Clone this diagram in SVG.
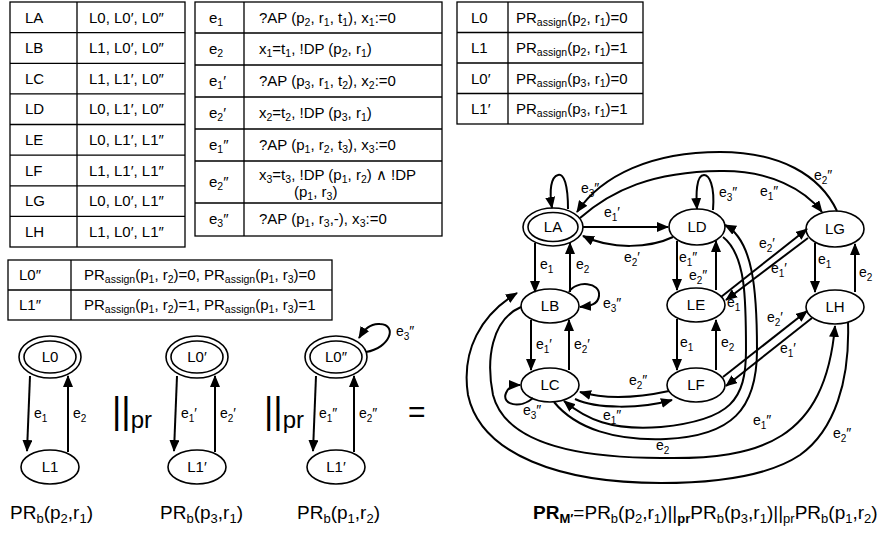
<svg xmlns="http://www.w3.org/2000/svg" width="886" height="533" viewBox="0 0 886 533">
<style>
text{font-family:"Liberation Sans",Arial,sans-serif;fill:#000}
.t{font-size:15px}
.ts{font-size:10.5px;baseline-shift:-3px}
.n{font-size:15px;text-anchor:middle}
.el{font-size:14px}
.s{font-size:10px;baseline-shift:-4px}
.big{font-size:19px}
.bs{font-size:13px;baseline-shift:-4px}
.tb{fill:none;stroke:#000;stroke-width:1.3}
.nd{fill:#fff;stroke:#000;stroke-width:1.6}
.e{fill:none;stroke:#000;stroke-width:2;marker-end:url(#ah)}
</style>
<defs>
<marker id="ah" viewBox="0 0 12 10" refX="11" refY="5" markerWidth="12" markerHeight="10" markerUnits="userSpaceOnUse" orient="auto"><path d="M0,0 L12,5 L0,10 z"/></marker>
</defs>
<rect width="886" height="533" fill="#fff"/>

<g id="table-states">
<rect class="tb" x="10" y="2" width="175" height="245"/>
<path class="tb" d="M77,2V247M10,32.6H185M10,63.3H185M10,93.9H185M10,124.5H185M10,155.1H185M10,185.8H185M10,216.4H185"/>
<text class="t" x="25" y="22.5">LA</text><text class="t" x="89" y="22.5">L0, L0′, L0″</text>
<text class="t" x="25" y="53">LB</text><text class="t" x="89" y="53">L1, L0′, L0″</text>
<text class="t" x="25" y="83.5">LC</text><text class="t" x="89" y="83.5">L1, L1′, L0″</text>
<text class="t" x="25" y="114">LD</text><text class="t" x="89" y="114">L0, L1′, L0″</text>
<text class="t" x="25" y="145">LE</text><text class="t" x="89" y="145">L0, L1′, L1″</text>
<text class="t" x="25" y="175.5">LF</text><text class="t" x="89" y="175.5">L1, L1′, L1″</text>
<text class="t" x="25" y="206">LG</text><text class="t" x="89" y="206">L0, L0′, L1″</text>
<text class="t" x="25" y="237">LH</text><text class="t" x="89" y="237">L1, L0′, L1″</text>
</g>

<g id="table-edges">
<rect class="tb" x="195" y="2" width="247" height="234"/>
<path class="tb" d="M244,2V236M195,33H442M195,65H442M195,97H442M195,129H442M195,161H442M195,203H442"/>
<text class="t" x="209" y="23">e<tspan class="ts">1</tspan></text>
<text class="t" x="259" y="23">?AP (p<tspan class="ts">2</tspan>, r<tspan class="ts">1</tspan>, t<tspan class="ts">1</tspan>), x<tspan class="ts">1</tspan>:=0</text>
<text class="t" x="209" y="54">e<tspan class="ts">2</tspan></text>
<text class="t" x="259" y="54">x<tspan class="ts">1</tspan>=t<tspan class="ts">1</tspan>, !DP (p<tspan class="ts">2</tspan>, r<tspan class="ts">1</tspan>)</text>
<text class="t" x="209" y="86">e<tspan class="ts">1</tspan>′</text>
<text class="t" x="259" y="86">?AP (p<tspan class="ts">3</tspan>, r<tspan class="ts">1</tspan>, t<tspan class="ts">2</tspan>), x<tspan class="ts">2</tspan>:=0</text>
<text class="t" x="209" y="118">e<tspan class="ts">2</tspan>′</text>
<text class="t" x="259" y="118">x<tspan class="ts">2</tspan>=t<tspan class="ts">2</tspan>, !DP (p<tspan class="ts">3</tspan>, r<tspan class="ts">1</tspan>)</text>
<text class="t" x="209" y="150">e<tspan class="ts">1</tspan>″</text>
<text class="t" x="259" y="150">?AP (p<tspan class="ts">1</tspan>, r<tspan class="ts">2</tspan>, t<tspan class="ts">3</tspan>), x<tspan class="ts">3</tspan>:=0</text>
<text class="t" x="209" y="187">e<tspan class="ts">2</tspan>″</text>
<text class="t" x="259" y="180">x<tspan class="ts">3</tspan>=t<tspan class="ts">3</tspan>, !DP (p<tspan class="ts">1</tspan>, r<tspan class="ts">2</tspan>) ∧ !DP</text>
<text class="t" x="294" y="197">(p<tspan class="ts">1</tspan>, r<tspan class="ts">3</tspan>)</text>
<text class="t" x="209" y="224">e<tspan class="ts">3</tspan>″</text>
<text class="t" x="259" y="224">?AP (p<tspan class="ts">1</tspan>, r<tspan class="ts">3</tspan>,-), x<tspan class="ts">3</tspan>:=0</text>
</g>

<g id="table-locations">
<rect class="tb" x="457" y="2" width="186" height="122"/>
<path class="tb" d="M508,2V124M457,32.5H643M457,63H643M457,93.5H643"/>
<text class="t" x="471" y="22.5">L0</text><text class="t" x="516" y="22.5">PR<tspan class="ts">assign</tspan>(p<tspan class="ts">2</tspan>, r<tspan class="ts">1</tspan>)=0</text>
<text class="t" x="471" y="53">L1</text><text class="t" x="516" y="53">PR<tspan class="ts">assign</tspan>(p<tspan class="ts">2</tspan>, r<tspan class="ts">1</tspan>)=1</text>
<text class="t" x="471" y="83.5">L0′</text><text class="t" x="516" y="83.5">PR<tspan class="ts">assign</tspan>(p<tspan class="ts">3</tspan>, r<tspan class="ts">1</tspan>)=0</text>
<text class="t" x="471" y="114">L1′</text><text class="t" x="516" y="114">PR<tspan class="ts">assign</tspan>(p<tspan class="ts">3</tspan>, r<tspan class="ts">1</tspan>)=1</text>
</g>

<g id="table-locations2">
<rect class="tb" x="8" y="260" width="324" height="60"/>
<path class="tb" d="M71,260V320M8,290H332"/>
<text class="t" x="19" y="280">L0″</text><text class="t" x="84" y="280">PR<tspan class="ts">assign</tspan>(p<tspan class="ts">1</tspan>, r<tspan class="ts">2</tspan>)=0, PR<tspan class="ts">assign</tspan>(p<tspan class="ts">1</tspan>, r<tspan class="ts">3</tspan>)=0</text>
<text class="t" x="19" y="310">L1″</text><text class="t" x="84" y="310">PR<tspan class="ts">assign</tspan>(p<tspan class="ts">1</tspan>, r<tspan class="ts">2</tspan>)=1, PR<tspan class="ts">assign</tspan>(p<tspan class="ts">1</tspan>, r<tspan class="ts">3</tspan>)=1</text>
</g>

<g id="L0"><ellipse class="nd" cx="50" cy="357" rx="31" ry="21"/><ellipse class="nd" cx="50" cy="357" rx="26" ry="16"/><text class="n" x="50" y="362">L0</text></g>
<g id="L1"><ellipse class="nd" cx="50" cy="467" rx="29" ry="17"/><text class="n" x="50" y="472">L1</text></g>
<g id="L0p"><ellipse class="nd" cx="197" cy="357" rx="31" ry="21"/><ellipse class="nd" cx="197" cy="357" rx="26" ry="16"/><text class="n" x="197" y="362">L0′</text></g>
<g id="L1p"><ellipse class="nd" cx="197" cy="467" rx="29" ry="17"/><text class="n" x="197" y="472">L1′</text></g>
<g id="L0pp"><ellipse class="nd" cx="336" cy="357" rx="31" ry="21"/><ellipse class="nd" cx="336" cy="357" rx="26" ry="16"/><text class="n" x="336" y="362">L0″</text></g>
<g id="L1pp"><ellipse class="nd" cx="336" cy="467" rx="29" ry="17"/><text class="n" x="336" y="472">L1′</text></g>

<g id="LA"><ellipse class="nd" cx="553" cy="227" rx="30" ry="19"/><ellipse class="nd" cx="553" cy="227" rx="25" ry="14.5"/><text class="n" x="553" y="232">LA</text></g>
<g id="LD"><ellipse class="nd" cx="697" cy="227" rx="28" ry="18"/><text class="n" x="697" y="232">LD</text></g>
<g id="LG"><ellipse class="nd" cx="835" cy="229" rx="29" ry="18"/><text class="n" x="835" y="234">LG</text></g>
<g id="LB"><ellipse class="nd" cx="550" cy="306" rx="29" ry="17"/><text class="n" x="550" y="311">LB</text></g>
<g id="LE"><ellipse class="nd" cx="696" cy="305" rx="29" ry="17"/><text class="n" x="696" y="310">LE</text></g>
<g id="LH"><ellipse class="nd" cx="835" cy="307" rx="29" ry="17"/><text class="n" x="835" y="312">LH</text></g>
<g id="LC"><ellipse class="nd" cx="550" cy="385" rx="29" ry="17"/><text class="n" x="550" y="390">LC</text></g>
<g id="LF"><ellipse class="nd" cx="696" cy="385" rx="29" ry="17"/><text class="n" x="696" y="390">LF</text></g>

<g id="connectors">
<path class="e" d="M30,376 L27,451"/>
<path class="e" d="M68,452 L68,376"/>
<path class="e" d="M177,376 L174,451"/>
<path class="e" d="M215,452 L215,376"/>
<path class="e" d="M316,376 L313,451"/>
<path class="e" d="M354,452 L354,376"/>
<path class="e" d="M366,352 C390,348 398,325 380,324 C370,323 364,330 359,338"/>
<path class="e" d="M535,243 L535,292"/>
<path class="e" d="M570,292 L570,243"/>
<path class="e" d="M531,320 L531,370"/>
<path class="e" d="M569,370 L569,320"/>
<path class="e" d="M677,241 L677,290"/>
<path class="e" d="M716,290 L716,241"/>
<path class="e" d="M677,319 L677,370"/>
<path class="e" d="M716,370 L716,320"/>
<path class="e" d="M815,243 L815,292"/>
<path class="e" d="M855,292 L855,244"/>
<path class="e" d="M583,227 L668,227"/>
<path class="e" d="M673,237 C650,248 612,250 583,236"/>
<path class="e" d="M568,209 C568,185 564,173 558,175 C551,177 549,190 552,208"/>
<path class="e" d="M569,292 C576,280 601,282 599,296 C598,304 591,306 580,307"/>
<path class="e" d="M533,398 C521,409 501,405 506,393 C509,386 514,385 520,385"/>
<path class="e" d="M713,210 C715,185 709,175 704,175 C696,175 696,195 697,209"/>
<path class="e" d="M580,218 C612,190 652,172 720,171 C770,170 805,190 822,212"/>
<path class="e" d="M837,211 C820,175 780,152 720,152 C652,152 602,175 577,212"/>
<path class="e" d="M721,297 L807,229"/>
<path class="e" d="M808,238 L726,300"/>
<path class="e" d="M723,377 L807,311"/>
<path class="e" d="M812,318 L726,386"/>
<path class="e" d="M669,391 C646,396 611,401 580,392"/>
<path class="e" d="M575,399 C596,409 641,409 672,400"/>
<path class="e" d="M723,237 C746,255 746,300 746,350 C746,400 731,420 661,427 C611,431 586,419 564,401"/>
<path class="e" d="M554,402 C576,429 616,441 666,439 C731,436 757,410 757,350 C757,290 753,240 725,225"/>
<path class="e" d="M521,307 C491,320 486,360 493,395 C506,445 581,458 661,458 C761,460 825,440 835,326"/>
<path class="e" d="M848,322 C850,380 835,430 800,455 C770,475 720,483 661,483 C561,483 481,455 468,395 C461,350 481,315 517,293"/>
</g>

<g id="labels">
<text class="el" x="34" y="418">e<tspan class="s">1</tspan></text>
<text class="el" x="73" y="418">e<tspan class="s">2</tspan></text>
<text class="el" x="181" y="418">e<tspan class="s">1</tspan>′</text>
<text class="el" x="220" y="418">e<tspan class="s">2</tspan>′</text>
<text class="el" x="319" y="418">e<tspan class="s">1</tspan>″</text>
<text class="el" x="359" y="418">e<tspan class="s">2</tspan>″</text>
<text class="el" x="396" y="336">e<tspan class="s">3</tspan>″</text>
<text style="font-size:36px" x="112" y="423">||<tspan style="font-size:24px" baseline-shift="-5">pr</tspan></text>
<text style="font-size:36px" x="264" y="423">||<tspan style="font-size:24px" baseline-shift="-5">pr</tspan></text>
<text style="font-size:30px" x="408" y="422">=</text>

<text class="el" x="540" y="269">e<tspan class="s">1</tspan></text>
<text class="el" x="576" y="269">e<tspan class="s">2</tspan></text>
<text class="el" x="536" y="349">e<tspan class="s">1</tspan>′</text>
<text class="el" x="574" y="349">e<tspan class="s">2</tspan>′</text>
<text class="el" x="581" y="193">e<tspan class="s">3</tspan>″</text>
<text class="el" x="603" y="308">e<tspan class="s">3</tspan>″</text>
<text class="el" x="523" y="415">e<tspan class="s">3</tspan>″</text>
<text class="el" x="604" y="217">e<tspan class="s">1</tspan>′</text>
<text class="el" x="624" y="262">e<tspan class="s">2</tspan>′</text>
<text class="el" x="719" y="197">e<tspan class="s">3</tspan>″</text>
<text class="el" x="760" y="196">e<tspan class="s">1</tspan>″</text>
<text class="el" x="814" y="180">e<tspan class="s">2</tspan>″</text>
<text class="el" x="679" y="262">e<tspan class="s">1</tspan>″</text>
<text class="el" x="689" y="280">e<tspan class="s">2</tspan>″</text>
<text class="el" x="727" y="307">e<tspan class="s">1</tspan></text>
<text class="el" x="818" y="264">e<tspan class="s">1</tspan></text>
<text class="el" x="859" y="277">e<tspan class="s">2</tspan></text>
<text class="el" x="759" y="248">e<tspan class="s">2</tspan>′</text>
<text class="el" x="771" y="273">e<tspan class="s">1</tspan>′</text>
<text class="el" x="680" y="347">e<tspan class="s">1</tspan></text>
<text class="el" x="721" y="347">e<tspan class="s">2</tspan></text>
<text class="el" x="767" y="322">e<tspan class="s">2</tspan>′</text>
<text class="el" x="780" y="353">e<tspan class="s">1</tspan>′</text>
<text class="el" x="629" y="385">e<tspan class="s">2</tspan>″</text>
<text class="el" x="603" y="420">e<tspan class="s">1</tspan>″</text>
<text class="el" x="656" y="450">e<tspan class="s">2</tspan></text>
<text class="el" x="753" y="425">e<tspan class="s">1</tspan>″</text>
<text class="el" x="833" y="438">e<tspan class="s">2</tspan>″</text>
</g>

<g id="captions">
<text class="big" x="10" y="519">PR<tspan class="bs">b</tspan>(p<tspan class="bs">2</tspan>,r<tspan class="bs">1</tspan>)</text>
<text class="big" x="160" y="519">PR<tspan class="bs">b</tspan>(p<tspan class="bs">3</tspan>,r<tspan class="bs">1</tspan>)</text>
<text class="big" x="297" y="519">PR<tspan class="bs">b</tspan>(p<tspan class="bs">1</tspan>,r<tspan class="bs">2</tspan>)</text>
<text class="big" x="533" y="519"><tspan font-weight="bold">PR</tspan><tspan class="bs" font-weight="bold">M′</tspan>=PR<tspan class="bs">b</tspan>(p<tspan class="bs">2</tspan>,r<tspan class="bs">1</tspan>)||<tspan class="bs" font-weight="bold">pr</tspan>PR<tspan class="bs">b</tspan>(p<tspan class="bs">3</tspan>,r<tspan class="bs">1</tspan>)||<tspan class="bs">pr</tspan>PR<tspan class="bs">b</tspan>(p<tspan class="bs">1</tspan>,r<tspan class="bs">2</tspan>)</text>
</g>
</svg>
